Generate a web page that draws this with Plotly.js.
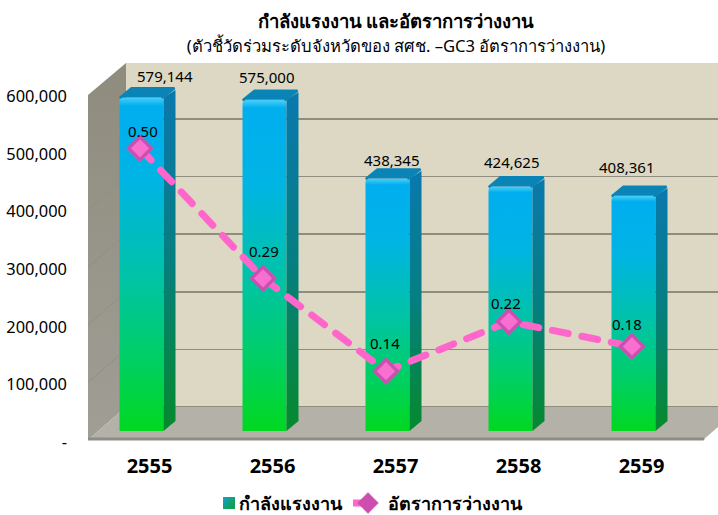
<!DOCTYPE html>
<html><head><meta charset="utf-8">
<script src="https://cdn.plot.ly/plotly-3.0.1.min.js"></script>
<style>html,body{margin:0;padding:0;background:#fff}#c{width:718px;height:515px}</style>
</head><body>
<div id="c"></div>
<script>
// ---- data ----
const years = [2555, 2556, 2557, 2558, 2559];
const workforce = [579144, 575000, 438345, 424625, 408361];
const unemployment = [0.50, 0.29, 0.14, 0.22, 0.18];
const yTickVals = [0, 100000, 200000, 300000, 400000, 500000, 600000];
const yTickText = ['-', '100,000', '200,000', '300,000', '400,000', '500,000', '600,000'];
const seriesNames = ['กำลังแรงงาน', 'อัตราการว่างงาน'];

// ---- label nudges (px) ----
const barLabelDx = [23, 2, 4, 1, -7];
const barLabelDy = [21, 23, 19, 24, 29];
const lineLabelDx = [1, -1, -3, -5, -7];
const lineLabelDy = [17, 27, 28, 19, 22];

// ---- pseudo-3D geometry (px) ----
const PL = 88, PR = 718, PT = 63, PB = 443;
const FLOOR = 440;                // px of the floor's front edge
const LABEL0 = 442;               // px where the left axis labels put zero
const K = 57.6 / 100000;          // px per workforce unit
const XU = 123;                   // px per year
const X0 = 141.5;                 // px of first bar centre
const WALL_DX = 38, BACK0 = 407, BAR0 = 431;
const BAR_W = 44, BAR_SIDE = 12, BAR_RISE = 10;
const xOf = px => years[0] + (px - X0) / XU;
const vOf = px => (LABEL0 - px) / K;
const rangeFront = [vOf(PB), vOf(PT)];
const rangeBack = [(BACK0 - PB) / K, (BACK0 - PT) / K];
const rangeBar = [(BAR0 - PB) / K, (BAR0 - PT) / K];
const rangeLine = [(457.8 - PB) / 619, (457.8 - PT) / 619];

const hw = BAR_W / 2 / XU, sx = BAR_SIDE / XU, sy = BAR_RISE / K;
const base = {hoverinfo: 'skip', showlegend: false};
const poly = (xs, ys, yaxis, extra) => Object.assign({
  x: xs, y: ys, yaxis, mode: 'lines', fill: 'toself', line: {width: 0}
}, base, extra);

const traces = [];
// left wall and floor, on the front-plane axis
traces.push(poly([PL, PL + WALL_DX, PL + WALL_DX, PL].map(xOf),
  [95, PT, BACK0, FLOOR].map(vOf), 'y',
  {fillgradient: {type: 'vertical', colorscale: [[0, '#a09e95'], [1, '#8f8c7e']]}, fillcolor: '#98958a'}));
traces.push(poly([PL, PL + WALL_DX, PR, PR, 703, PL].map(xOf),
  [FLOOR, BACK0, BACK0, 427, FLOOR, FLOOR].map(vOf), 'y', {fillcolor: '#b3b1a8'}));
traces.push(Object.assign({x: [PL, 703].map(xOf), y: [vOf(FLOOR - 1), vOf(FLOOR - 1)], yaxis: 'y', mode: 'lines',
  line: {color: '#8e8c86', width: 3}}, base));
// wall creases on the back-plane axis
const creaseX = [], creaseY = [];
yTickVals.slice(1, 6).forEach(v => {
  creaseX.push(xOf(PL), xOf(PL + WALL_DX), null);
  creaseY.push(v - (FLOOR - BACK0) / K, v, null);
});
traces.push(Object.assign({x: creaseX, y: creaseY, yaxis: 'y2', mode: 'lines',
  line: {color: '#918e83', width: 1}}, base));

// bars: front face
traces.push({
  type: 'bar', name: seriesNames[0], x: years, y: workforce, yaxis: 'y3', width: BAR_W / XU,
  marker: {color: '#00c2a0', cornerradius: 4, line: {width: 0}}, hoverinfo: 'skip'
});
// bars: side and top faces, derived from the values
years.forEach((yr, i) => {
  const v = workforce[i], xr = yr + hw, xl = yr - hw;
  traces.push(poly([xr, xr + sx, xr + sx, xr], [0, sy, v + sy * 0.75, v], 'y3',
    {fillgradient: {type: 'vertical', colorscale: [[0, '#058a2c'], [0.5, '#057f80'], [1, '#0a78ae']]}, fillcolor: '#057f80'}));
  traces.push(poly([xl + 0.008, xl + sx, xr + sx - 0.008, xr - 0.008], [v, v + sy - 1500, v + sy - 1500, v], 'y3',
    {fillcolor: '#0a84b6', line: {width: 2.5, color: '#0a84b6'}}));
});
// line
traces.push({
  type: 'scatter', name: seriesNames[1], x: years.map(y => y - 1.5 / XU), y: unemployment, yaxis: 'y4',
  mode: 'lines+markers',
  line: {color: '#ff66cc', width: 7, dash: '16px 14px'},
  marker: {symbol: 'diamond', size: 21, color: '#cc4fb0', line: {color: '#d452b8', width: 0.5}},
  hoverinfo: 'skip'
});
// lighter inner facet of each diamond
traces.push(Object.assign({
  x: years.map(y => y - 1.5 / XU), y: unemployment, yaxis: 'y4', mode: 'markers',
  marker: {symbol: 'diamond', size: 14, color: '#f86fd0', line: {width: 0}}
}, base));

const labelFont = {family: 'Noto Sans, sans-serif', size: 15, color: '#000'};
const annotations = [];
years.forEach((yr, i) => {
  annotations.push({x: yr, y: workforce[i], xref: 'x', yref: 'y3', text: workforce[i].toLocaleString('en-US'),
    showarrow: false, xshift: barLabelDx[i], yshift: barLabelDy[i], font: labelFont});
  annotations.push({x: yr, y: unemployment[i], xref: 'x', yref: 'y4', text: unemployment[i].toFixed(2),
    showarrow: false, xshift: lineLabelDx[i], yshift: lineLabelDy[i], font: labelFont});
});

const layout = {
  width: 718, height: 515, showlegend: true, hovermode: false,
  margin: {l: PL, r: 718 - PR, t: PT, b: 515 - PB, pad: 0, autoexpand: false},
  paper_bgcolor: '#fff', plot_bgcolor: 'rgba(0,0,0,0)',
  font: {family: 'Noto Sans, sans-serif', color: '#000'},
  title: {
    text: '<b>กำลังแรงงาน และอัตราการว่างงาน</b><br><span style="font-size:16.6px">(ตัวชี้วัดร่วมระดับจังหวัดของ สศช. –GC3 อัตราการว่างงาน)</span>',
    x: 396 / 718, xanchor: 'center', y: 0.946, yanchor: 'top', font: {size: 18.5, color: '#000'}
  },
  xaxis: {
    range: [xOf(PL), xOf(PR)], tickvals: years, tickformat: 'd', ticks: '', showgrid: false, zeroline: false,
    ticklabelshift: 8, ticklabelstandoff: 9,
    tickfont: {size: 20, family: 'Noto Sans, sans-serif', weight: 'bold', color: '#000'}
  },
  yaxis: {
    range: rangeFront, tickvals: yTickVals, ticktext: yTickText, showgrid: false, zeroline: false, ticks: '',
    ticklabelstandoff: 20, tickfont: {size: 16.4, family: 'Noto Sans, sans-serif', color: '#000'}
  },
  yaxis2: {range: rangeBack, overlaying: 'y', showticklabels: false, ticks: '', zeroline: false,
    tickvals: yTickVals, showgrid: true, gridcolor: '#8f8d7e', gridwidth: 1.5},
  yaxis3: {range: rangeBar, overlaying: 'y', visible: false, showgrid: false, zeroline: false},
  yaxis4: {range: rangeLine, overlaying: 'y', visible: false, showgrid: false, zeroline: false},
  shapes: [{type: 'rect', layer: 'below', xref: 'x', yref: 'y', line: {width: 0}, fillcolor: '#ddd8c3',
    x0: xOf(PL + WALL_DX), x1: xOf(PR), y0: vOf(BACK0), y1: vOf(PT)}],
  annotations,
  legend: {
    orientation: 'h', x: 314 / 718, xanchor: 'center', y: -0.135, yanchor: 'middle', itemwidth: 30,
    font: {size: 18, family: 'Noto Sans, sans-serif', weight: 'bold', color: '#000'}, bgcolor: 'rgba(0,0,0,0)'
  }
};

Plotly.newPlot('c', traces, layout, {displayModeBar: false, staticPlot: true}).then(gd => {
  const svg = gd.querySelector('svg.main-svg');
  const NS = 'http://www.w3.org/2000/svg';
  const defs = svg.querySelector('defs') || svg.insertBefore(document.createElementNS(NS, 'defs'), svg.firstChild);
  const mk = (id, x2, y2, stops) => {
    const g = document.createElementNS(NS, 'linearGradient');
    g.setAttribute('id', id); g.setAttribute('x1', 0); g.setAttribute('y1', 0);
    g.setAttribute('x2', x2); g.setAttribute('y2', y2);
    stops.forEach(([o, c]) => {
      const s = document.createElementNS(NS, 'stop');
      s.setAttribute('offset', o); s.setAttribute('stop-color', c); g.appendChild(s);
    });
    defs.appendChild(g);
  };
  mk('barFace', 0, 1, [[0, '#4cd0f8'], [0.025, '#00aeef'], [0.25, '#00b4e4'], [0.55, '#00c4a4'], [0.8, '#00d060'], [1, '#00d820']]);
  mk('barKey', 1, 1, [[0, '#12a0dc'], [0.55, '#10a070'], [1, '#10a040']]);
  gd.querySelectorAll('.barlayer .point path').forEach(p => { p.style.fill = 'url(#barFace)'; });
  const key = gd.querySelector('.legend .legendpoints path');
  if (key) {
    key.setAttribute('d', 'M-6,-6h12v12h-12z');
    key.style.fill = 'url(#barKey)';
    key.setAttribute('transform', 'translate(30,0)');
  }
  gd.querySelectorAll('.scatterlayer .js-line').forEach(p => { p.style.strokeLinecap = 'round'; });
  const leg = gd.querySelector('g.legend');
  const m = /translate\(([-\d.]+),\s*([-\d.]+)\)/.exec(leg.getAttribute('transform') || '');
  if (m) leg.setAttribute('transform', `translate(${m[1]},${+m[2] + 9})`);
});
</script>
</body></html>
